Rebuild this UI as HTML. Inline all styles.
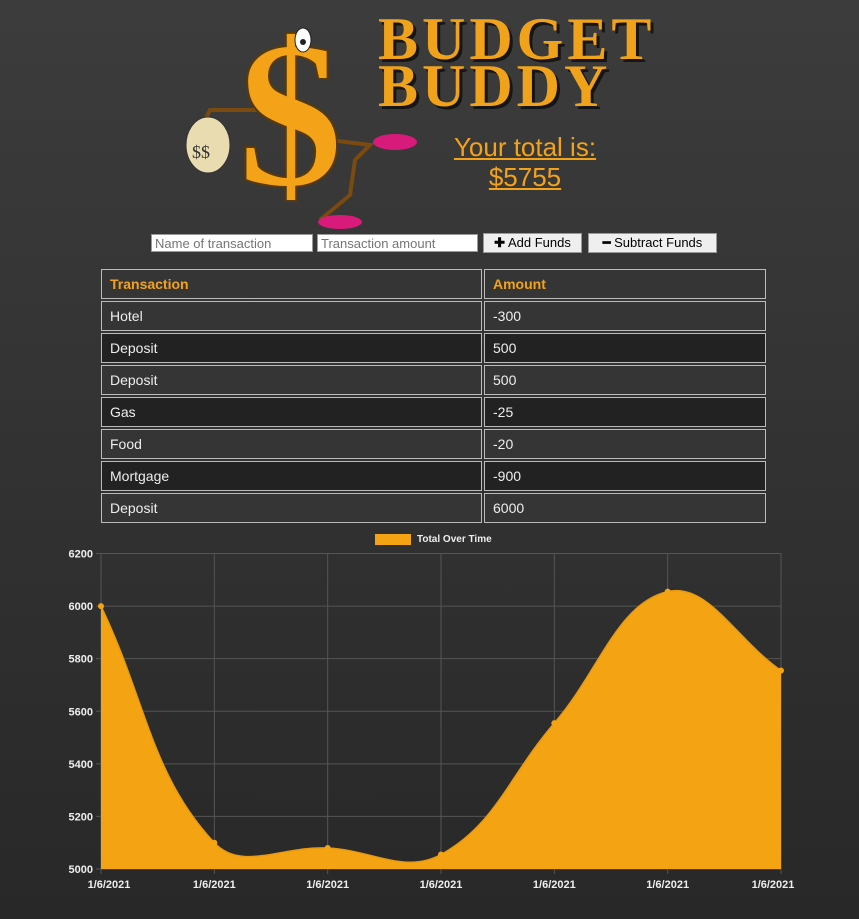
<!DOCTYPE html>
<html><head><meta charset="utf-8"><style>
body{margin:0;width:859px;height:919px;overflow:hidden;background:linear-gradient(#3c3c3c,#282828);font-family:"Liberation Sans",sans-serif;position:relative}
.abs{position:absolute}
.title{font-family:"Liberation Serif",serif;font-weight:bold;color:#f0a31a;font-size:60px;letter-spacing:4px;line-height:47px;text-shadow:3px 3px 0 #151515}
.total{color:#f4a318;font-size:26px;text-decoration:underline;text-align:center;line-height:30px}
input{position:absolute;height:18px;border:1px solid #999;padding:0 3px;font-size:13px;box-sizing:border-box;font-family:"Liberation Sans",sans-serif;color:#777}
button{position:absolute;height:20px;background:#efefef;border:1px solid #999;font-size:13px;padding:0 4px;font-family:"Liberation Sans",sans-serif}
table{position:absolute;left:99px;top:267px;border-collapse:separate;border-spacing:2px}
td{border:1px solid #bbb;height:30px;padding:0 8px;color:#eee;font-size:14px;box-sizing:border-box}
tbody tr:nth-child(odd) td{background:#353535}tbody tr:nth-child(even) td{background:#222}
th{border:1px solid #bbb;height:30px;padding:0 8px;color:#f4a318;font-size:14px;text-align:left;background:#353535;box-sizing:border-box}
</style></head><body>
<div class="abs" style="left:180px;top:10px;width:240px;height:220px">
<svg width="240" height="220">
<path d="M90 100 L30 100 L25 110" stroke="#7a4a10" stroke-width="4" fill="none"/>
<ellipse cx="28" cy="135" rx="22" ry="28" fill="#e8dcb0" stroke="#333"/>
<text x="12" y="148" font-size="18" fill="#333" font-family="Liberation Serif">$$</text>
<path d="M150 130 L190 135 L175 150 L170 185 L140 210" stroke="#7a4a10" stroke-width="4" fill="none"/>
<ellipse cx="215" cy="132" rx="22" ry="8" fill="#d81b7a"/>
<ellipse cx="160" cy="212" rx="22" ry="7" fill="#d81b7a"/>
<text x="58" y="175" font-size="210" font-weight="bold" fill="#f4a318" stroke="#5a3a08" stroke-width="2" font-family="Liberation Serif">$</text>
<ellipse cx="123" cy="30" rx="8" ry="12" fill="#fff" stroke="#222"/><circle cx="123" cy="32" r="3" fill="#222"/>
</svg></div>
<div class="abs title" style="left:378px;top:16px">BUDGET<br>BUDDY</div>
<div class="abs total" style="left:430px;top:132px;width:190px">Your total is:<br>$5755</div>
<input style="left:151px;top:234px;width:162px" placeholder="Name of transaction">
<input style="left:317px;top:234px;width:161px" placeholder="Transaction amount">
<button style="left:483px;top:233px;width:99px"><b>✚</b> Add Funds</button>
<button style="left:588px;top:233px;width:129px"><b>━</b> Subtract Funds</button>
<table>
<thead><tr><th style="width:381px">Transaction</th><th style="width:282px">Amount</th></tr></thead>
<tbody><tr><td>Hotel</td><td>-300</td></tr><tr><td>Deposit</td><td>500</td></tr><tr><td>Deposit</td><td>500</td></tr><tr><td>Gas</td><td>-25</td></tr><tr><td>Food</td><td>-20</td></tr><tr><td>Mortgage</td><td>-900</td></tr><tr><td>Deposit</td><td>6000</td></tr></tbody>
</table>
<svg id="chart" class="abs" style="left:0;top:0" width="859" height="919" font-family="Liberation Sans" font-weight="bold" font-size="11"></svg>
<script>
const labels=["1/6/2021","1/6/2021","1/6/2021","1/6/2021","1/6/2021","1/6/2021","1/6/2021"];
const totals=[6000,5100,5080,5055,5555,6055,5755];
const yTicks=[5000,5200,5400,5600,5800,6000,6200];
const L=101,R=781,T=553.5,B=869,ymin=5000,ymax=6200;
const sx=i=>L+i*(R-L)/(labels.length-1);
const sy=v=>B-(v-ymin)/(ymax-ymin)*(B-T);
const s=document.getElementById('chart');const NS='http://www.w3.org/2000/svg';
function mk(t,a,p){const e=document.createElementNS(NS,t);for(const k in a)e.setAttribute(k,a[k]);(p||s).appendChild(e);return e;}
yTicks.forEach(v=>{const l=mk('line',{x1:L-5,x2:R,y1:sy(v),y2:sy(v),stroke:'#555'});
const t=mk('text',{x:L-8,y:sy(v)+4,'text-anchor':'end',fill:'#eee'});t.textContent=v;});
labels.forEach((lb,i)=>{const l=mk('line',{x1:sx(i),x2:sx(i),y1:T,y2:B+5,stroke:'#555'});
const t=mk('text',{x:sx(i),y:B+19,'text-anchor':'middle',fill:'#eee',dx:i==0?8:(i==labels.length-1?-8:0)});t.textContent=lb;});
const pts=totals.map((v,i)=>({x:sx(i),y:sy(v)}));const tn=0.4;
const cps=pts.map((p,i)=>{const a=pts[i-1]||p,c=pts[i+1]||p;const d01=Math.hypot(p.x-a.x,p.y-a.y),d12=Math.hypot(c.x-p.x,c.y-p.y);let s01=d01/(d01+d12)||0,s12=d12/(d01+d12)||0;const fa=tn*s01,fb=tn*s12;
return{px:p.x-fa*(c.x-a.x),py:p.y-fa*(c.y-a.y),nx:p.x+fb*(c.x-a.x),ny:p.y+fb*(c.y-a.y)};});
let d='M'+pts[0].x+' '+pts[0].y;for(let i=1;i<pts.length;i++)d+=` C${cps[i-1].nx} ${cps[i-1].ny} ${cps[i].px} ${cps[i].py} ${pts[i].x} ${pts[i].y}`;
const area=mk('path',{d:d+` L${R} ${B} L${L} ${B} Z`,fill:'#f4a312'});
const ln=mk('path',{d:d,fill:'none',stroke:'#e89a10','stroke-width':1.5});
pts.forEach(p=>{const c=mk('circle',{cx:p.x,cy:p.y,r:3,fill:'#f4a312'});});
const lg=mk('rect',{x:375,y:534,width:36,height:11,fill:'#f4a312'});
const lt=mk('text',{x:417,y:542,fill:'#eee','font-size':10});lt.textContent='Total Over Time';
</script>
</body></html>
